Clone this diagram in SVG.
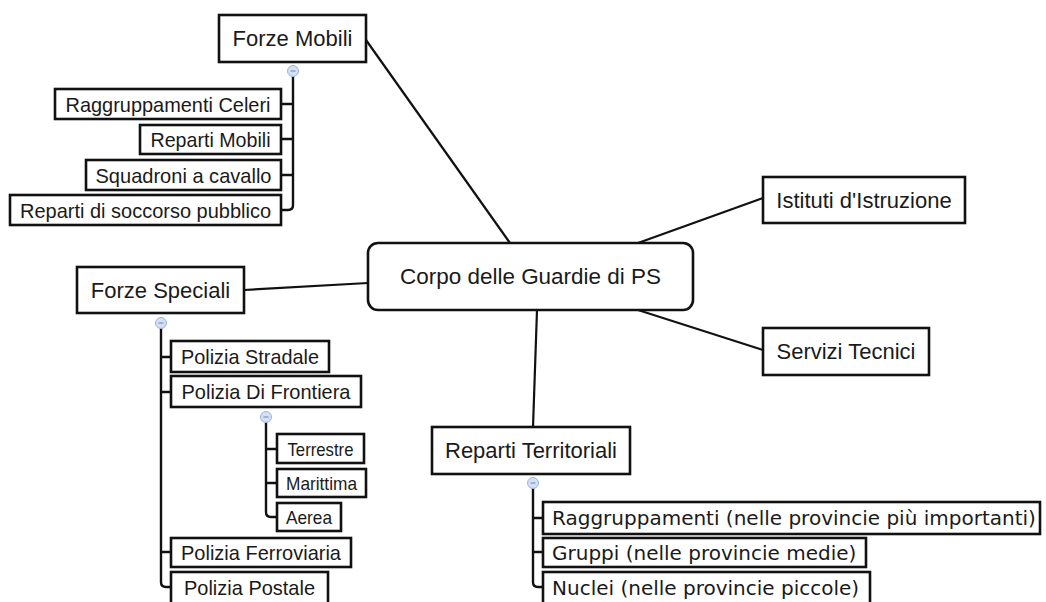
<svg xmlns="http://www.w3.org/2000/svg" width="1046" height="602" viewBox="0 0 1046 602">
<style>
.bg{fill:#ffffff}
.box{fill:#ffffff;stroke:#111111;stroke-width:2.6}
.t{font-family:"Liberation Sans",Arial,sans-serif;fill:#1a1a1a;text-anchor:middle}
.t22{font-size:22px}
.t20{font-size:21px}
.t16{font-size:19px}
.dv{font-family:"DejaVu Sans",Verdana,sans-serif;font-size:20px;fill:#1a1a1a}
.ln{fill:none;stroke:#111111;stroke-width:2.2}
.tr{fill:none;stroke:#111111;stroke-width:2.4;stroke-linejoin:round}
.cc{fill:#d3dff2;stroke:#9fb3d9;stroke-width:1}
.cm{stroke:#6f86b8;stroke-width:1}
</style>
<rect class="bg" x="0" y="0" width="1046" height="602"/>
<defs>
<g id="collapse"><circle class="cc" r="5.5"/><line class="cm" x1="-2.5" y1="0" x2="2.5" y2="0"/></g>
</defs>
<g id="connectors">
<line class="ln" x1="366" y1="40" x2="510" y2="243"/>
<line class="ln" x1="763" y1="198" x2="638" y2="243"/>
<line class="ln" x1="763" y1="350" x2="638" y2="310"/>
<line class="ln" x1="533" y1="427" x2="537" y2="310"/>
<line class="ln" x1="244" y1="290" x2="368" y2="283"/>
<path class="tr" d="M293 76 V205 Q293 210 288 210 H281 M281 104 H293 M281 139 H293 M281 175 H293"/>
<path class="tr" d="M161 328 V582 Q161 587 166 587 H171 M161 357 H171 M161 392 H171 M161 552 H171"/>
<path class="tr" d="M266 422 V512 Q266 517 271 517 H277 M266 449 H277 M266 483 H277"/>
<path class="tr" d="M533 488 V582 Q533 587 538 587 H543 M533 518 H543 M533 552 H543"/>
<use href="#collapse" x="293" y="71"/>
<use href="#collapse" x="161" y="323"/>
<use href="#collapse" x="266" y="417"/>
<use href="#collapse" x="533" y="483"/>
</g>
<g id="n-root">
<rect class="box" x="368" y="243" width="325" height="67" rx="10"/>
<text class="t t22" x="530.5" y="284" textLength="261" lengthAdjust="spacingAndGlyphs">Corpo delle Guardie di PS</text>
</g>
<g id="n-forze-mobili">
<rect class="box" x="219" y="15" width="147" height="47"/>
<text class="t t22" x="292.5" y="46">Forze Mobili</text>
</g>
<g id="n-raggruppamenti-celeri">
<rect class="box" x="55" y="89" width="226" height="30"/>
<text class="t t20" x="168" y="111.5" textLength="205" lengthAdjust="spacingAndGlyphs">Raggruppamenti Celeri</text>
</g>
<g id="n-reparti-mobili">
<rect class="box" x="140" y="125" width="141" height="29"/>
<text class="t t20" x="210.5" y="147" textLength="120" lengthAdjust="spacingAndGlyphs">Reparti Mobili</text>
</g>
<g id="n-squadroni">
<rect class="box" x="86" y="160" width="195" height="30"/>
<text class="t t20" x="183.5" y="182.5" textLength="176" lengthAdjust="spacingAndGlyphs">Squadroni a cavallo</text>
</g>
<g id="n-soccorso">
<rect class="box" x="10" y="195" width="271" height="30"/>
<text class="t t20" x="145.5" y="217.5" textLength="251" lengthAdjust="spacingAndGlyphs">Reparti di soccorso pubblico</text>
</g>
<g id="n-forze-speciali">
<rect class="box" x="77" y="267" width="167" height="46"/>
<text class="t t22" x="160.5" y="298">Forze Speciali</text>
</g>
<g id="n-stradale">
<rect class="box" x="171" y="341" width="158" height="31"/>
<text class="t t20" x="250" y="364" textLength="138" lengthAdjust="spacingAndGlyphs">Polizia Stradale</text>
</g>
<g id="n-frontiera">
<rect class="box" x="171" y="376" width="190" height="31"/>
<text class="t t20" x="266" y="399" textLength="169" lengthAdjust="spacingAndGlyphs">Polizia Di Frontiera</text>
</g>
<g id="n-terrestre">
<rect class="box" x="277" y="434" width="87" height="29"/>
<text class="t t16" x="320.5" y="455.5" textLength="66" lengthAdjust="spacingAndGlyphs">Terrestre</text>
</g>
<g id="n-marittima">
<rect class="box" x="277" y="469" width="89" height="28"/>
<text class="t t16" x="321.5" y="489.5" textLength="71" lengthAdjust="spacingAndGlyphs">Marittima</text>
</g>
<g id="n-aerea">
<rect class="box" x="277" y="503" width="64" height="28"/>
<text class="t t16" x="309" y="523.5" textLength="46" lengthAdjust="spacingAndGlyphs">Aerea</text>
</g>
<g id="n-ferroviaria">
<rect class="box" x="171" y="538" width="180" height="29"/>
<text class="t t20" x="261" y="560" textLength="160" lengthAdjust="spacingAndGlyphs">Polizia Ferroviaria</text>
</g>
<g id="n-postale">
<rect class="box" x="171" y="572" width="157" height="32"/>
<text class="t t20" x="249.5" y="594.5" textLength="131" lengthAdjust="spacingAndGlyphs">Polizia Postale</text>
</g>
<g id="n-istituti">
<rect class="box" x="763" y="177" width="202" height="46"/>
<text class="t t22" x="864" y="208">Istituti d'Istruzione</text>
</g>
<g id="n-servizi">
<rect class="box" x="763" y="328" width="166" height="47"/>
<text class="t t22" x="846" y="359">Servizi Tecnici</text>
</g>
<g id="n-territoriali">
<rect class="box" x="432" y="427" width="198" height="47"/>
<text class="t t22" x="531" y="458">Reparti Territoriali</text>
</g>
<g id="n-raggruppamenti-prov">
<rect class="box" x="543" y="502" width="497" height="32"/>
<text class="dv" x="552" y="525">Raggruppamenti (nelle provincie più importanti)</text>
</g>
<g id="n-gruppi">
<rect class="box" x="543" y="538" width="323" height="29"/>
<text class="dv" x="552" y="560">Gruppi (nelle provincie medie)</text>
</g>
<g id="n-nuclei">
<rect class="box" x="543" y="572" width="327" height="32"/>
<text class="dv" x="552" y="595">Nuclei (nelle provincie piccole)</text>
</g>
</svg>
